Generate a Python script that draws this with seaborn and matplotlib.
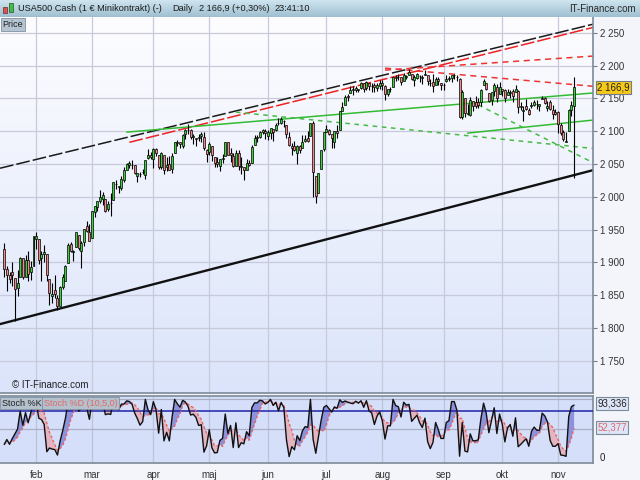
import numpy as np
import pandas as pd
import matplotlib
matplotlib.use("Agg")
import matplotlib.pyplot as plt
from matplotlib.colors import LinearSegmentedColormap
from matplotlib.ticker import FuncFormatter
from matplotlib.transforms import blended_transform_factory
import seaborn as sns

sns.set_style("white")
plt.rcParams["font.family"] = ["Liberation Sans", "DejaVu Sans"]

# daily candles (weekdays), 14 Jan 2016 - 9 Nov 2016
dates = pd.bdate_range("2016-01-14", "2016-11-09")

opens = [
    1921, 1890, 1880, 1885, 1876, 1861, 1878, 1906, 1878, 1903, 1885, 1895,
    1936, 1935, 1907, 1912, 1913, 1874, 1848, 1858, 1845, 1834, 1862, 1872, 1899, 1928, 1915, 1924, 1942, 1917, 1931, 1955, 1947,
    1937, 1976, 1985, 1994, 1997, 1997, 1981, 1991, 1995, 2019, 2016, 2014, 2026, 2041, 2048, 2048, 2049, 2032, 2035, 2037, 2033, 2059, 2063,
    2057, 2073, 2063, 2046, 2063, 2046, 2050, 2043, 2066, 2082, 2083, 2078, 2096, 2101, 2102, 2091, 2089, 2089, 2093, 2091, 2071,
    2068, 2077, 2060, 2053, 2047, 2057, 2062, 2083, 2067, 2062, 2047, 2066, 2045, 2045, 2041, 2052, 2052, 2079, 2091, 2091, 2099, 2100,
    2093, 2097, 2104, 2101, 2112, 2113, 2115, 2110, 2091, 2077, 2078, 2067, 2078, 2075, 2085, 2089, 2093, 2113, 2031, 2006, 2043, 2073,
    2099, 2101, 2096, 2084, 2100, 2101, 2131, 2140, 2153, 2158, 2165, 2162, 2164, 2166, 2173, 2166, 2173, 2169, 2170, 2166, 2169,
    2173, 2169, 2156, 2164, 2168, 2183, 2182, 2182, 2177, 2183, 2186, 2187, 2178, 2181, 2184, 2181, 2187, 2185, 2174, 2175, 2171, 2179, 2173,
    2171, 2177, 2180, 2181, 2185, 2183, 2180, 2121, 2150, 2128, 2125, 2146, 2144, 2145, 2144, 2170, 2173, 2158, 2147, 2161, 2168, 2156,
    2164, 2163, 2155, 2158, 2161, 2160, 2161, 2137, 2130, 2139, 2132, 2138, 2140, 2142, 2139, 2149, 2151, 2136, 2144, 2132, 2129,
    2129, 2110, 2098, 2083, 2100, 2132, 2138,
]
highs = [
    1930, 1895, 1886, 1901, 1876, 1889, 1908, 1907, 1911, 1917, 1902, 1940,
    1947, 1935, 1918, 1927, 1913, 1874, 1869, 1881, 1850, 1864, 1882, 1896, 1930, 1931, 1919, 1946, 1942, 1932, 1951, 1963, 1958,
    1978, 1986, 1994, 2010, 2007, 1997, 1993, 2006, 2023, 2025, 2016, 2032, 2046, 2052, 2054, 2056, 2049, 2036, 2038, 2043, 2056, 2073, 2068,
    2075, 2075, 2064, 2068, 2063, 2061, 2062, 2066, 2083, 2087, 2084, 2095, 2104, 2111, 2104, 2095, 2089, 2096, 2099, 2099, 2073,
    2084, 2077, 2060, 2060, 2058, 2065, 2084, 2084, 2074, 2066, 2072, 2071, 2061, 2045, 2058, 2056, 2079, 2094, 2094, 2100, 2103, 2103,
    2101, 2105, 2104, 2113, 2120, 2121, 2117, 2110, 2099, 2082, 2085, 2079, 2079, 2094, 2094, 2100, 2113, 2116, 2031, 2036, 2071, 2098,
    2109, 2104, 2096, 2100, 2109, 2131, 2144, 2155, 2156, 2169, 2169, 2169, 2164, 2175, 2174, 2176, 2173, 2174, 2174, 2173, 2178,
    2178, 2171, 2164, 2168, 2183, 2185, 2187, 2183, 2188, 2185, 2194, 2187, 2185, 2188, 2185, 2185, 2193, 2186, 2179, 2187, 2183, 2182, 2174,
    2173, 2185, 2184, 2186, 2187, 2185, 2181, 2163, 2150, 2141, 2152, 2146, 2154, 2150, 2165, 2179, 2174, 2158, 2160, 2173, 2172, 2175,
    2164, 2165, 2164, 2162, 2165, 2170, 2162, 2145, 2138, 2149, 2135, 2145, 2148, 2148, 2142, 2154, 2152, 2146, 2148, 2140, 2133,
    2131, 2112, 2102, 2099, 2133, 2146, 2182,
]
lows = [
    1878, 1857, 1868, 1864, 1810, 1848, 1878, 1875, 1878, 1872, 1873, 1895,
    1921, 1898, 1872, 1900, 1872, 1835, 1838, 1846, 1827, 1834, 1860, 1872, 1899, 1915, 1902, 1924, 1919, 1891, 1925, 1946, 1932,
    1937, 1969, 1978, 1990, 1987, 1977, 1979, 1970, 1995, 2012, 2006, 2010, 2022, 2041, 2044, 2043, 2035, 2023, 2030, 2034, 2027, 2057, 2058,
    2044, 2062, 2043, 2043, 2034, 2039, 2040, 2036, 2066, 2078, 2075, 2074, 2088, 2096, 2088, 2080, 2077, 2085, 2083, 2071, 2053,
    2063, 2054, 2046, 2045, 2039, 2051, 2062, 2064, 2053, 2045, 2047, 2041, 2034, 2026, 2041, 2047, 2052, 2079, 2083, 2089, 2096, 2088,
    2086, 2088, 2085, 2100, 2110, 2111, 2106, 2090, 2078, 2064, 2070, 2050, 2067, 2075, 2083, 2084, 2093, 2000, 1991, 2006, 2043, 2070,
    2098, 2094, 2074, 2074, 2090, 2101, 2131, 2140, 2146, 2158, 2155, 2160, 2159, 2165, 2159, 2163, 2162, 2160, 2159, 2161, 2165,
    2163, 2147, 2154, 2160, 2168, 2177, 2178, 2171, 2177, 2179, 2186, 2178, 2169, 2180, 2175, 2172, 2186, 2171, 2169, 2160, 2171, 2170, 2162,
    2162, 2175, 2177, 2175, 2180, 2176, 2120, 2119, 2121, 2125, 2123, 2131, 2135, 2136, 2139, 2170, 2163, 2145, 2140, 2153, 2145, 2156,
    2154, 2144, 2155, 2150, 2145, 2160, 2128, 2132, 2115, 2132, 2124, 2136, 2138, 2133, 2130, 2149, 2141, 2131, 2132, 2119, 2125,
    2097, 2094, 2085, 2083, 2100, 2123, 2028,
]
closes = [
    1890, 1880, 1874, 1881, 1859, 1869, 1906, 1877, 1903, 1882, 1893, 1940,
    1940, 1903, 1913, 1915, 1880, 1854, 1852, 1851, 1833, 1862, 1878, 1895, 1927, 1918, 1918, 1946, 1922, 1929, 1951, 1948, 1932,
    1978, 1986, 1994, 2000, 2002, 1979, 1989, 1990, 2022, 2020, 2015, 2027, 2040, 2050, 2051, 2049, 2036, 2036, 2034, 2037, 2056, 2064, 2060,
    2073, 2066, 2045, 2066, 2041, 2048, 2041, 2062, 2083, 2083, 2080, 2094, 2101, 2102, 2091, 2092, 2088, 2091, 2095, 2075, 2065,
    2081, 2063, 2051, 2050, 2057, 2059, 2084, 2064, 2064, 2047, 2066, 2047, 2047, 2040, 2052, 2048, 2076, 2090, 2090, 2099, 2101, 2097,
    2099, 2105, 2099, 2110, 2112, 2119, 2116, 2096, 2079, 2075, 2072, 2077, 2071, 2083, 2088, 2085, 2113, 2037, 2001, 2036, 2071, 2099,
    2103, 2096, 2089, 2100, 2097, 2130, 2137, 2152, 2152, 2163, 2162, 2166, 2163, 2173, 2165, 2175, 2169, 2169, 2167, 2170, 2174,
    2171, 2157, 2164, 2164, 2183, 2181, 2182, 2175, 2186, 2184, 2190, 2179, 2183, 2187, 2184, 2182, 2186, 2176, 2173, 2169, 2180, 2176, 2171,
    2171, 2180, 2181, 2186, 2186, 2182, 2122, 2160, 2127, 2126, 2147, 2139, 2139, 2140, 2163, 2177, 2165, 2146, 2159, 2171, 2151, 2168,
    2161, 2150, 2160, 2160, 2153, 2164, 2137, 2139, 2132, 2133, 2126, 2140, 2144, 2141, 2141, 2151, 2143, 2139, 2133, 2126, 2126,
    2111, 2097, 2088, 2085, 2132, 2140, 2167,
]

# drawn trend lines: (start date, start price) -> (end date, end price)
channel_starts = ["2016-01-14", "2016-01-14"]
channel_start_prices = [2045, 1807.5]
channel_ends = ["2016-11-09", "2016-11-09"]
channel_end_prices = [2256, 2033]

trend_starts = ["2016-03-21", "2016-08-02", "2016-08-02", "2016-03-18", "2016-09-14", "2016-05-16", "2016-09-20"]
trend_start_prices = [2083, 2193, 2196, 2098.5, 2097, 2129, 2140]
trend_ends = ["2016-11-24"] * 7
trend_end_prices = [2262, 2215.5, 2167, 2159.5, 2118.5, 2072, 2044]

month_starts = ["2016-02-01", "2016-03-01", "2016-04-01", "2016-05-02", "2016-06-01",
                "2016-07-01", "2016-08-01", "2016-09-01", "2016-10-03", "2016-11-01"]
month_labels = ["feb", "mar", "apr", "maj", "jun", "jul", "aug", "sep", "okt", "nov"]
price_levels = [1750, 1800, 1850, 1900, 1950, 2000, 2050, 2100, 2150, 2200, 2250]

last_price = 2166.9
last_k = 93.336
last_d = 52.377

df = pd.DataFrame({"open": opens, "high": highs, "low": lows, "close": closes}, index=dates)
x = np.arange(len(df))
day0 = np.datetime64("2016-01-14")


def day_index(d):
    return np.busday_count(day0, np.datetime64(d))


# stochastic (10,5,0): raw %K, %D = 5-day mean
hh = df["high"].rolling(10, min_periods=1).max()
ll = df["low"].rolling(10, min_periods=1).min()
k = (100 * (df["close"] - ll) / (hh - ll)).to_numpy()
d = pd.Series(k).rolling(5, min_periods=1).mean().to_numpy()

W, H = 640, 480


def box(l, t, r, b):
    return [l / W, 1 - b / H, (r - l) / W, (b - t) / H]


fig = plt.figure(figsize=(6.4, 4.8), dpi=100, facecolor="#f3f5fb")
ax = fig.add_axes(box(0, 17, 593, 393))
ax2 = fig.add_axes(box(0, 396, 593, 463))
hdr = fig.add_axes(box(0, 0, 640, 17))

xlim = (-1.58, 221.1)
ylim = (1700.8, 2274.0)

# --- header bar
hdr.imshow(np.linspace(0, 1, 64).reshape(-1, 1), aspect="auto", extent=[0, W, 17, 0],
           cmap=LinearSegmentedColormap.from_list("h", ["#cfe4ef", "#9fc0d1"]))
hdr.set_xlim(0, W)
hdr.set_ylim(17, 0)
hdr.axis("off")
hdr.add_patch(plt.Rectangle((3, 7), 4, 6, facecolor="#e05050", edgecolor="#603030", lw=0.5))
hdr.add_patch(plt.Rectangle((9, 3), 4, 9, facecolor="#40c040", edgecolor="#305030", lw=0.5))
hdr.text(18, 8.5, "USA500 Cash (1 € Minikontrakt) (-)", fontsize=6.6, va="center", color="#1a1a1a")
hdr.text(172, 8.5, "Daily", fontsize=6.6, va="center", color="#1a1a1a")
hdr.text(199, 8.5, "2 166,9 (+0,30%)", fontsize=6.6, va="center", color="#1a1a1a")
hdr.text(274, 8.5, "23:41:10", fontsize=6.6, va="center", color="#1a1a1a")
hdr.text(636, 9, "IT-Finance.com", fontsize=7, va="center", ha="right", color="#2a2a2a")

# --- price panel
ax.imshow(np.linspace(0, 1, 256).reshape(-1, 1), aspect="auto",
          extent=[xlim[0], xlim[1], ylim[0], ylim[1]], origin="upper", zorder=0,
          cmap=LinearSegmentedColormap.from_list("bg", ["#fdfdff", "#dbe4fa"]))
ax.set_xlim(*xlim)
ax.set_ylim(*ylim)
month_idx = [day_index(m) for m in month_starts]
ax.set_xticks(month_idx)
ax.set_yticks(price_levels)
ax.grid(True, color="#c8cadc", lw=0.9, zorder=1)
ax.set_axisbelow(True)
ax.tick_params(axis="x", length=0, labelbottom=False)
ax.yaxis.tick_right()
ax.tick_params(axis="y", direction="out", length=3, width=0.8, color="#6f7c8c",
               labelsize=7, labelcolor="#333333", pad=2)
ax.yaxis.set_major_formatter(FuncFormatter(lambda v, p: f"{v:,.0f}".replace(",", " ")))
for s in ["left", "top"]:
    ax.spines[s].set_visible(False)
for s in ["right", "bottom"]:
    ax.spines[s].set_color("#7d8a98")
    ax.spines[s].set_linewidth(1.2)

# trend lines
chan_styles = [dict(color="#1a1a1a", lw=1.1, dashes=(9, 2)), dict(color="#111111", lw=1.7)]
for s0, p0, s1, p1, st in zip(channel_starts, channel_start_prices, channel_ends, channel_end_prices, chan_styles):
    ax.axline((day_index(s0), p0), (day_index(s1), p1), zorder=2.5, **st)

trend_styles = [
    dict(color="#ee2222", lw=1.1, dashes=(9, 2)),
    dict(color="#ee3333", lw=1.1, dashes=(4, 3)),
    dict(color="#ee3333", lw=1.1, dashes=(4, 3)),
    dict(color="#33bb33", lw=1.1),
    dict(color="#33bb33", lw=1.1),
    dict(color="#44bb44", lw=1.1, dashes=(3, 3)),
    dict(color="#44bb44", lw=1.1, dashes=(3, 3)),
]
for s0, p0, s1, p1, st in zip(trend_starts, trend_start_prices, trend_ends, trend_end_prices, trend_styles):
    ax.plot([day_index(s0), day_index(s1)], [p0, p1], zorder=2.5, **st)

# candles
up = df["close"] >= df["open"]
body_colors = np.where(up, "#3fcf3f", "#f08a8a")
ax.vlines(x, df["low"], df["high"], color="black", lw=0.8, zorder=3)
ax.bar(x, df["close"] - df["open"], bottom=df["open"], width=0.75, color=body_colors,
       edgecolor="black", linewidth=0.5, zorder=4)

ax.text(1.007, last_price, f"{last_price:,.1f}".replace(",", " ").replace(".", ","),
        transform=blended_transform_factory(ax.transAxes, ax.transData), fontsize=7,
        va="center", ha="left", color="#222222", zorder=6, clip_on=False,
        bbox=dict(boxstyle="square,pad=0.15", facecolor="#f6c817", edgecolor="#6f7c8c", lw=0.8))

ax.text(3, 1706, "© IT-Finance.com", fontsize=7, color="#222222", va="bottom", zorder=6)
ax.text(0.004, 0.992, "Price", transform=ax.transAxes, fontsize=6.5, va="top", ha="left",
        color="#222222", bbox=dict(boxstyle="square,pad=0.2", facecolor="#b4c4d2", edgecolor="#8090a0", lw=0.6))

# --- stochastic panel
ax2.set_facecolor("#d6dff9")
ax2.set_xlim(*xlim)
ax2.set_ylim(-8.6, 105.8)
ax2.set_yticks([])
ax2.set_xticks(month_idx)
ax2.set_xticklabels(month_labels)
ax2.tick_params(axis="x", direction="out", length=3, width=0.8, color="#6f7c8c",
                labelsize=7, labelcolor="#333333", pad=2)
for m in month_idx:
    ax2.axvline(m, color="#bcc2d8", lw=0.9, zorder=1)
ax2.axhline(100, color="#a9afc4", lw=0.9, zorder=1)
ax2.axhline(50, color="#a9afc4", lw=0.9, zorder=1)
ax2.fill_between(x, k, d, where=k >= d, interpolate=True, color="#8c92db", lw=0, zorder=2)
ax2.fill_between(x, k, d, where=k < d, interpolate=True, color="#e2b5c0", lw=0, zorder=2)
ax2.axhline(80, color="#1f22a8", lw=1.1, zorder=3)
sns.lineplot(x=x, y=d, ax=ax2, color="#ea6464", lw=1.0, linestyle=(0, (2, 1.5)), zorder=4)
sns.lineplot(x=x, y=k, ax=ax2, color="#111111", lw=1.0, zorder=5)
for s in ["left", "right", "top", "bottom"]:
    ax2.spines[s].set_color("#7d8a98")
    ax2.spines[s].set_linewidth(1.2)
ax2.spines["left"].set_visible(False)

tr2 = blended_transform_factory(ax2.transAxes, ax2.transData)
ax2.text(1.007, last_k, f"{last_k:.3f}".replace(".", ","), transform=tr2, fontsize=7,
         va="center", color="#222222", clip_on=False,
         bbox=dict(boxstyle="square,pad=0.15", facecolor="#dde5f8", edgecolor="#7d8a98", lw=0.8))
ax2.text(1.007, last_d, f"{last_d:.3f}".replace(".", ","), transform=tr2, fontsize=7,
         va="center", color="#e06a6a", clip_on=False,
         bbox=dict(boxstyle="square,pad=0.15", facecolor="#dde5f8", edgecolor="#7d8a98", lw=0.8))
ax2.text(1.012, 0, "0", transform=tr2, fontsize=7, va="center", color="#222222", clip_on=False)
ax2.text(0.003, 0.96, "Stoch %K", transform=ax2.transAxes, fontsize=6.5, va="top", color="#222222",
         bbox=dict(boxstyle="square,pad=0.2", facecolor="#b4c0cc", edgecolor="#8090a0", lw=0.6), zorder=6)
ax2.text(0.074, 0.96, "Stoch %D (10,5,0)", transform=ax2.transAxes, fontsize=6.5, va="top", color="#e06a6a",
         bbox=dict(boxstyle="square,pad=0.2", facecolor="#b4c0cc", edgecolor="#8090a0", lw=0.6), zorder=6)

fig.savefig("out.png", dpi=100, facecolor=fig.get_facecolor())
